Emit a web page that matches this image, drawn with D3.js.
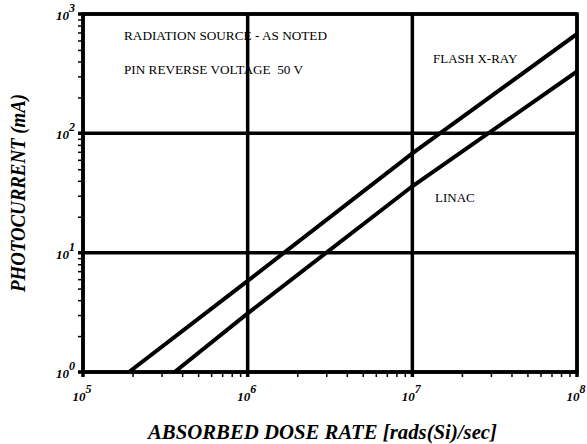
<!DOCTYPE html>
<html>
<head>
<meta charset="utf-8">
<script src="https://cdn.jsdelivr.net/npm/d3@7"></script>
<style>
  body { margin: 0; background: #fff; }
  .note { white-space: pre; }
</style>
</head>
<body>
<div id="chart"></div>
<script>
// data
var doseDecades = [1e5, 1e6, 1e7, 1e8];
var currentDecades = [1e0, 1e1, 1e2, 1e3];
var xExponents = ["5", "6", "7", "8"];
var yExponents = ["0", "1", "2", "3"];

var flashDose = [1.9e5, 1e6, 1e7, 1e8];
var flashCurrent = [1, 5.8, 68, 680];
var linacDose = [3.6e5, 1e6, 1e7, 1e8];
var linacCurrent = [1, 3.1, 36, 330];

var notes = ["RADIATION SOURCE - AS NOTED", "PIN REVERSE VOLTAGE  50 V"];
var noteWidths = [203, 179];

var serif = "'Liberation Serif', 'Times New Roman', serif";

var margin = { top: 14, right: 10, bottom: 72, left: 83 },
    width = 587 - margin.left - margin.right,
    height = 444 - margin.top - margin.bottom;

var svg = d3.select("#chart").append("svg")
    .attr("width", 587)
    .attr("height", 444)
    .append("g")
    .attr("transform", "translate(" + margin.left + "," + margin.top + ")");

var x = d3.scaleLog().domain([1e5, 1e8]).range([0, width]);
var y = d3.scaleLog().domain([1, 1e3]).range([height, 0]);

// minor ticks (2..9 of every decade)
var minorX = [], minorY = [];
[1e5, 1e6, 1e7].forEach(d => { for (var k = 2; k < 10; k++) minorX.push(d * k); });
[1, 10, 100].forEach(d => { for (var k = 2; k < 10; k++) minorY.push(d * k); });

svg.append("g")
    .attr("transform", "translate(0," + height + ")")
    .call(d3.axisBottom(x).tickValues(minorX).tickSize(5).tickFormat(""))
    .call(g => g.select(".domain").remove())
    .call(g => g.selectAll("line").attr("stroke-width", 1.5));

svg.append("g")
    .call(d3.axisLeft(y).tickValues(minorY).tickSize(5).tickFormat(""))
    .call(g => g.select(".domain").remove())
    .call(g => g.selectAll("line").attr("stroke-width", 1.5));

// notes (under the grid, the 10^6 line runs across them)
svg.selectAll(".note")
    .data(notes)
    .enter().append("text")
    .attr("class", "note")
    .attr("x", 41)
    .attr("y", (d, i) => 26 + i * 34)
    .attr("textLength", (d, i) => noteWidths[i])
    .attr("lengthAdjust", "spacingAndGlyphs")
    .attr("font-family", serif)
    .attr("font-size", 13)
    .text(d => d);

// major grid
svg.selectAll(".vgrid")
    .data(doseDecades)
    .enter().append("line")
    .attr("class", "vgrid")
    .attr("x1", d => x(d)).attr("x2", d => x(d))
    .attr("y1", 0).attr("y2", height + 5)
    .attr("stroke", "#000").attr("stroke-width", 3.5);

svg.selectAll(".hgrid")
    .data(currentDecades)
    .enter().append("line")
    .attr("class", "hgrid")
    .attr("x1", -5).attr("x2", width)
    .attr("y1", d => y(d)).attr("y2", d => y(d))
    .attr("stroke", "#000").attr("stroke-width", 3.5);

svg.append("text").attr("x", 350).attr("y", 49)
    .attr("font-family", serif).attr("font-size", 13).text("FLASH X-RAY");
svg.append("text").attr("x", 352).attr("y", 188)
    .attr("font-family", serif).attr("font-size", 13).text("LINAC");

// data lines
svg.append("clipPath").attr("id", "clip")
    .append("rect").attr("width", width).attr("height", height);

var line = d3.line().x(d => x(d[0])).y(d => y(d[1]));

[[flashDose, flashCurrent], [linacDose, linacCurrent]].forEach(s => {
    svg.append("path")
        .datum(d3.zip(s[0], s[1]))
        .attr("clip-path", "url(#clip)")
        .attr("fill", "none")
        .attr("stroke", "#000")
        .attr("stroke-width", 4)
        .attr("d", line);
});

// tick labels 10^n
var xl = svg.selectAll(".xlab")
    .data(doseDecades)
    .enter().append("text")
    .attr("class", "xlab")
    .attr("x", d => x(d) - 1)
    .attr("y", height + 29)
    .attr("text-anchor", "middle")
    .attr("font-family", serif)
    .attr("font-size", 13).attr("font-weight", "bold").attr("font-style", "italic");
xl.append("tspan").text("10");
xl.append("tspan").attr("dy", -8).attr("font-size", 12).text((d, i) => xExponents[i]);

var yl = svg.selectAll(".ylab")
    .data(currentDecades)
    .enter().append("text")
    .attr("class", "ylab")
    .attr("x", -8)
    .attr("y", d => y(d) + 6)
    .attr("text-anchor", "end")
    .attr("font-family", serif)
    .attr("font-size", 13).attr("font-weight", "bold").attr("font-style", "italic");
yl.append("tspan").text("10");
yl.append("tspan").attr("dy", -8).attr("font-size", 12).text((d, i) => yExponents[i]);

// frame
svg.append("rect")
    .attr("width", width).attr("height", height)
    .attr("fill", "none").attr("stroke", "#000").attr("stroke-width", 3.5);

// axis titles
svg.append("text")
    .attr("x", 148 - margin.left)
    .attr("y", height + 67)
    .attr("textLength", 349).attr("lengthAdjust", "spacingAndGlyphs")
    .attr("font-family", serif)
    .attr("font-size", 20).attr("font-weight", "bold").attr("font-style", "italic")
    .text("ABSORBED DOSE RATE [rads(Si)/sec]");

svg.append("text")
    .attr("transform", "translate(" + (-58) + "," + (height / 2 + 99) + ") rotate(-90)")
    .attr("textLength", 198).attr("lengthAdjust", "spacingAndGlyphs")
    .attr("font-family", serif)
    .attr("font-size", 20).attr("font-weight", "bold").attr("font-style", "italic")
    .text("PHOTOCURRENT (mA)");
</script>
</body>
</html>
